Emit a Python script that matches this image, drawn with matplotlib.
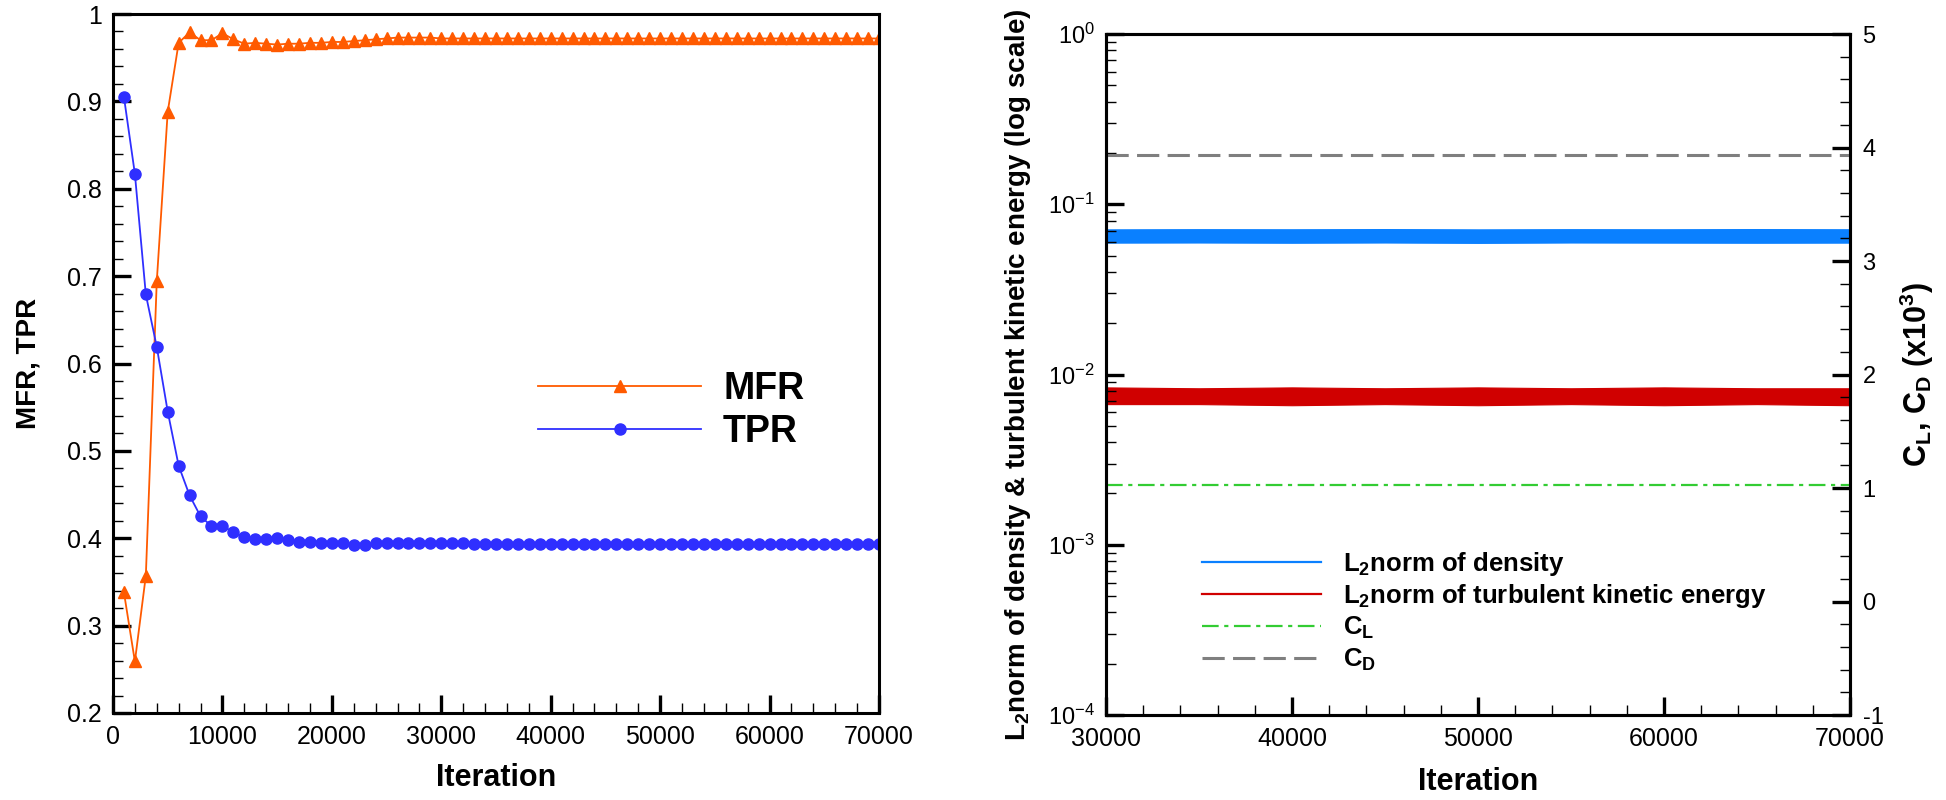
import numpy as np
import matplotlib
matplotlib.use('Agg')
import matplotlib.pyplot as plt
from matplotlib.lines import Line2D
from matplotlib.ticker import MultipleLocator, FuncFormatter, LogLocator, LogFormatterSciNotation

plt.rcParams['font.family'] = ['Liberation Sans', 'DejaVu Sans']
plt.rcParams['mathtext.fontset'] = 'custom'
plt.rcParams['mathtext.rm'] = 'Liberation Sans'
plt.rcParams['mathtext.bf'] = 'Liberation Sans:bold'
plt.rcParams['mathtext.it'] = 'Liberation Sans:italic'
plt.rcParams['lines.scale_dashes'] = False

# ---- left panel: MFR / TPR convergence ----
iteration = np.arange(1000, 70001, 1000)
mfr = [0.338, 0.259, 0.357, 0.694, 0.888, 0.967, 0.979, 0.970, 0.970, 0.978,
       0.971, 0.966, 0.967, 0.966, 0.965, 0.966, 0.966, 0.967, 0.967, 0.968,
       0.968, 0.969, 0.970, 0.971, 0.972, 0.973, 0.973, 0.973, 0.973, 0.972,
       0.972, 0.972, 0.972, 0.972, 0.972, 0.972, 0.972, 0.972, 0.972, 0.972,
       0.972, 0.972, 0.972, 0.972, 0.972, 0.972, 0.972, 0.972, 0.972, 0.972,
       0.972, 0.972, 0.972, 0.972, 0.972, 0.972, 0.972, 0.972, 0.972, 0.972,
       0.972, 0.972, 0.972, 0.972, 0.972, 0.972, 0.972, 0.972, 0.972, 0.972]
tpr = [0.905, 0.817, 0.679, 0.619, 0.545, 0.483, 0.449, 0.425, 0.414, 0.414,
       0.407, 0.401, 0.399, 0.399, 0.400, 0.398, 0.396, 0.396, 0.395, 0.394,
       0.394, 0.392, 0.392, 0.394, 0.394, 0.395, 0.395, 0.394, 0.394, 0.394,
       0.394, 0.394, 0.393, 0.393, 0.393, 0.393, 0.393, 0.393, 0.393, 0.393,
       0.393, 0.393, 0.393, 0.393, 0.393, 0.393, 0.393, 0.393, 0.393, 0.393,
       0.393, 0.393, 0.393, 0.393, 0.393, 0.393, 0.393, 0.393, 0.393, 0.393,
       0.393, 0.393, 0.393, 0.393, 0.393, 0.393, 0.393, 0.393, 0.393, 0.393]

# ---- right panel: residuals (band envelope) and coefficients ----
iter_r = [30000, 35000, 40000, 45000, 50000, 55000, 60000, 65000, 70000]
rho_lo = [0.0595, 0.0596, 0.0594, 0.0596, 0.0593, 0.0596, 0.0595, 0.0594, 0.0595]
rho_hi = [0.0712, 0.0714, 0.0713, 0.0715, 0.0712, 0.0714, 0.0713, 0.0715, 0.0713]
tke_lo = [0.0067, 0.0067, 0.0066, 0.0067, 0.0066, 0.0067, 0.0066, 0.0067, 0.0066]
tke_hi = [0.0084, 0.0083, 0.0084, 0.0083, 0.0084, 0.0083, 0.0084, 0.0083, 0.0083]
cl = [1.03, 1.03, 1.03, 1.03, 1.03, 1.03, 1.03, 1.03, 1.03]
cd = [3.93, 3.93, 3.93, 3.93, 3.93, 3.93, 3.93, 3.93, 3.93]

c_mfr = '#ff5a00'
c_tpr = '#2f2fff'
c_rho = '#0a80ff'
c_tke = '#d00000'
c_cl = '#33cc33'
c_cd = '#7f7f7f'

W, H = 1946, 800


def style(ax):
    for s in ax.spines.values():
        s.set_linewidth(2.2)
    ax.tick_params(which='major', direction='in', length=13, width=2.4, labelsize=18, top=False, right=False)
    ax.tick_params(which='minor', direction='in', length=7, width=1.0, top=False, right=False)


def key(fig, x0, x1, y, text, size, **kw):
    # one legend row drawn in figure pixels (y measured from the top)
    marker = kw.pop('marker', None)
    ms = kw.pop('ms', 8)
    fig.add_artist(Line2D([x0 / W, x1 / W], [1 - y / H, 1 - y / H], transform=fig.transFigure, **kw))
    if marker:
        fig.add_artist(Line2D([(x0 + x1) / 2 / W], [1 - y / H], transform=fig.transFigure,
                              marker=marker, ms=ms, color=kw['color'], lw=0))
    cap = 0.716 * size * 100 / 72
    fig.text((x1 + 22) / W, 1 - (y + cap / 2) / H, text, fontsize=size, fontweight='bold',
             ha='left', va='baseline')


fig = plt.figure(figsize=(W / 100, H / 100), dpi=100)

ax1 = fig.add_axes([113 / W, 87 / H, 766 / W, 699 / H])
ax1.plot(iteration, mfr, color=c_mfr, lw=1.3, marker='^', ms=9)
ax1.plot(iteration, tpr, color=c_tpr, lw=1.3, marker='o', ms=8)
ax1.set_xlim(0, 70000)
ax1.set_ylim(0.2, 1.0)
style(ax1)
ax1.xaxis.set_major_locator(MultipleLocator(10000))
ax1.xaxis.set_minor_locator(MultipleLocator(2000))
ax1.yaxis.set_major_locator(MultipleLocator(0.1))
ax1.yaxis.set_minor_locator(MultipleLocator(0.02))
ax1.xaxis.set_major_formatter(FuncFormatter(lambda v, p: '%d' % v))
ax1.yaxis.set_major_formatter(FuncFormatter(lambda v, p: '%g' % round(v, 2)))
ax1.tick_params(axis='x', pad=9)
ax1.tick_params(axis='y', pad=8)
ax1.set_xlabel('Iteration', fontsize=22, fontweight='bold')
ax1.set_ylabel('MFR, TPR', fontsize=20, fontweight='bold')
ax1.xaxis.set_label_coords(0.5, -0.072)
ax1.yaxis.set_label_coords(-0.093, 0.5)

key(fig, 538, 701, 386, 'MFR', 27, color=c_mfr, lw=1.3, marker='^', ms=9)
key(fig, 538, 701, 429, 'TPR', 27, color=c_tpr, lw=1.3, marker='o', ms=8)

ax2 = fig.add_axes([1106 / W, 85 / H, 744 / W, 681 / H])
ax2.fill_between(iter_r, rho_lo, rho_hi, color=c_rho, lw=0.8)
ax2.fill_between(iter_r, tke_lo, tke_hi, color=c_tke, lw=0.8)
ax2.set_yscale('log')
ax2.set_xlim(30000, 70000)
ax2.set_ylim(1e-4, 1)
style(ax2)
ax2.xaxis.set_major_locator(MultipleLocator(10000))
ax2.xaxis.set_minor_locator(MultipleLocator(2000))
ax2.xaxis.set_major_formatter(FuncFormatter(lambda v, p: '%d' % v))
ax2.yaxis.set_major_locator(LogLocator(base=10, numticks=10))
ax2.yaxis.set_minor_locator(LogLocator(base=10, subs=np.arange(2, 10), numticks=10))
ax2.yaxis.set_major_formatter(LogFormatterSciNotation())
ax2.tick_params(axis='y', labelsize=17, pad=8)
ax2.tick_params(axis='x', pad=9)
ax2.set_xlabel('Iteration', fontsize=22, fontweight='bold')
ax2.set_ylabel(r'L$_\mathbf{2}$norm of density & turbulent kinetic energy (log scale)',
               fontsize=20, fontweight='bold')
ax2.xaxis.set_label_coords(0.5, -0.076)
ax2.yaxis.set_label_coords(-0.098, 0.5)

ax3 = ax2.twinx()
ax3.plot(iter_r, cl, color=c_cl, lw=1.6, dashes=(12, 4, 3, 4))
ax3.plot(iter_r, cd, color=c_cd, lw=2.2, dashes=(16, 6))
ax3.set_ylim(-1, 5)
for s in ax3.spines.values():
    s.set_linewidth(2.2)
ax3.tick_params(which='major', direction='in', length=13, width=2.4, labelsize=17, pad=9,
                left=False, right=True)
ax3.tick_params(which='minor', direction='in', length=7, width=1.0, left=False, right=True)
ax3.yaxis.set_major_locator(MultipleLocator(1))
ax3.yaxis.set_minor_locator(MultipleLocator(0.2))
ax3.yaxis.set_major_formatter(FuncFormatter(lambda v, p: '%d' % round(v)))
ax3.set_ylabel(r'C$_\mathbf{L}$, C$_\mathbf{D}$ (x10$^\mathbf{3}$)', fontsize=22, fontweight='bold')
ax3.yaxis.set_label_coords(1.0645, 0.5)

key(fig, 1202, 1321, 562, r'L$_\mathbf{2}$norm of density', 18.5, color=c_rho, lw=1.6)
key(fig, 1202, 1321, 594, r'L$_\mathbf{2}$norm of turbulent kinetic energy', 18.5, color=c_tke, lw=1.6)
key(fig, 1202, 1321, 626, r'C$_\mathbf{L}$', 18.5, color=c_cl, lw=1.6, dashes=(12, 4, 3, 4))
key(fig, 1202, 1321, 658, r'C$_\mathbf{D}$', 18.5, color=c_cd, lw=2.2, dashes=(16, 6))

fig.savefig('out.png', dpi=100)
